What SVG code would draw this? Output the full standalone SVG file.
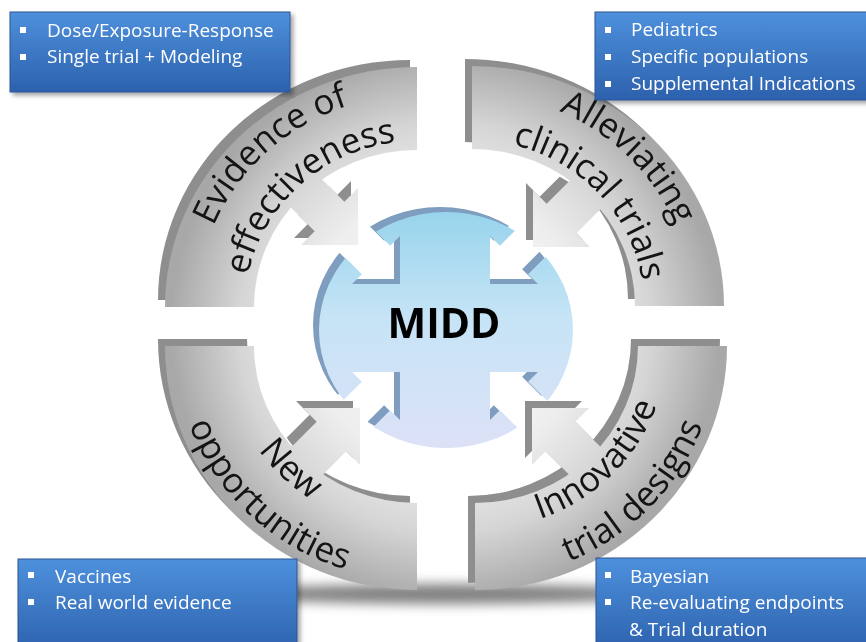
<svg xmlns="http://www.w3.org/2000/svg" xmlns:xlink="http://www.w3.org/1999/xlink" width="866" height="642" viewBox="0 0 866 642">
<style>
.bt{font-family:"Open Sans","Liberation Sans",sans-serif;font-size:19px;fill:#ffffff}
.at{font-family:"Open Sans","Liberation Sans",sans-serif;font-size:35px;fill:#141414}
.mt{font-family:"Open Sans","Liberation Sans",sans-serif;font-size:41px;font-weight:bold;fill:#000000}
.box{fill:url(#boxG);stroke:#2a5490;stroke-width:1;filter:url(#ds)}
.bul{fill:#ffffff}
.side{fill:#8e8e8e}
.face{fill:url(#arcG)}
</style>
<defs>
  <linearGradient id="boxG" x1="0" y1="0" x2="0" y2="1">
    <stop offset="0" stop-color="#4e90dc"/>
    <stop offset="1" stop-color="#2c61ad"/>
  </linearGradient>
  <radialGradient id="arcG" gradientUnits="userSpaceOnUse" cx="445" cy="328" r="275">
    <stop offset="0" stop-color="#ffffff"/>
    <stop offset="0.5" stop-color="#eeeeee"/>
    <stop offset="0.75" stop-color="#d5d5d5"/>
    <stop offset="1" stop-color="#a8a8a8"/>
  </radialGradient>
  <linearGradient id="discG" gradientUnits="userSpaceOnUse" x1="0" y1="212" x2="0" y2="448">
    <stop offset="0" stop-color="#98d4ec"/>
    <stop offset="0.45" stop-color="#c6e4f6"/>
    <stop offset="1" stop-color="#dde1f7"/>
  </linearGradient>
  <filter id="ds" x="-5%" y="-10%" width="115%" height="135%">
    <feDropShadow dx="3" dy="3" stdDeviation="2" flood-color="#000000" flood-opacity="0.35"/>
  </filter>
  <filter id="blur" x="-20%" y="-200%" width="140%" height="500%">
    <feGaussianBlur stdDeviation="6"/>
  </filter>

  <path id="arcTL" d="M417,67 A252,240 0 0 0 165,307 L254,307 A163,157 0 0 1 417,150 Z"/>
  <path id="arcTR" d="M472,66 A252,240 0 0 1 724,306 L635,306 A163,157 0 0 0 472,149 Z"/>
  <path id="arcBL" d="M165,346 L254,346 A163,157 0 0 0 417,503 L417,590 A252,244 0 0 1 165,346 Z"/>
  <path id="arcBR" d="M475,503 L475,590 A252,244 0 0 0 727,346 L638,346 A163,157 0 0 1 475,503 Z"/>

  <path id="arrTL" d="M358,245 L358,188 L344.35,201.65 L314.35,171.65 L284.65,201.35 L314.65,231.35 L301,245 Z"/>
  <path id="arrTR" d="M533,247 L533,190 L546.65,203.65 L576.65,173.65 L606.35,203.35 L576.35,233.35 L590,247 Z"/>
  <path id="arrBL" d="M360,408 L303,408 L316.65,421.65 L286.65,451.65 L316.35,481.35 L346.35,451.35 L360,465 Z"/>
  <path id="arrBR" d="M532,408 L589,408 L575.35,421.65 L605.35,451.65 L575.65,481.35 L545.65,451.35 L532,465 Z"/>

  <mask id="outsideArcs" maskUnits="userSpaceOnUse" x="-20" y="-20" width="906" height="682">
    <rect x="-20" y="-20" width="906" height="682" fill="#ffffff"/>
    <use xlink:href="#arcTL" fill="#000000" transform="translate(7,7)"/>
    <use xlink:href="#arcTR" fill="#000000" transform="translate(7,7)"/>
    <use xlink:href="#arcBL" fill="#000000" transform="translate(7,7)"/>
    <use xlink:href="#arcBR" fill="#000000" transform="translate(7,7)"/>
  </mask>
  <mask id="outsideArrows" maskUnits="userSpaceOnUse" x="-20" y="-20" width="906" height="682">
    <rect x="-20" y="-20" width="906" height="682" fill="#ffffff"/>
    <use xlink:href="#arrTL" fill="#000000" transform="translate(7,7)"/>
    <use xlink:href="#arrTR" fill="#000000" transform="translate(7,7)"/>
    <use xlink:href="#arrBL" fill="#000000" transform="translate(7,7)"/>
    <use xlink:href="#arrBR" fill="#000000" transform="translate(7,7)"/>
  </mask>

  <ellipse id="disc" cx="446" cy="330" rx="127" ry="118"/>
  <mask id="notch" maskUnits="userSpaceOnUse" x="-20" y="-20" width="906" height="682">
    <rect x="-20" y="-20" width="906" height="682" fill="#ffffff"/>
    <path fill="#000000" d="M400,284 L400,236 L390.14,245.86 L320.14,175.86 L291.86,204.14 L361.86,274.14 L352,284 Z
      M490,284 L490,236 L499.86,245.86 L569.86,175.86 L598.14,204.14 L528.14,274.14 L538,284 Z
      M400,372 L352,372 L361.86,381.86 L291.86,451.86 L320.14,480.14 L390.14,410.14 L400,420 Z
      M490,372 L538,372 L528.14,381.86 L598.14,451.86 L569.86,480.14 L499.86,410.14 L490,420 Z"/>
  </mask>

  <path id="tpTLo" d="M197,307 A220,212 0 0 1 417,95"/>
  <path id="tpTLi" d="M245,307 A172,166 0 0 1 417,141"/>
  <path id="tpTRo" d="M472,94 A220,212 0 0 1 692,306"/>
  <path id="tpTRi" d="M472,140 A172,166 0 0 1 644,306"/>
  <path id="tpBLi" d="M225,346 A192,184 0 0 0 417,530"/>
  <path id="tpBLo" d="M175,346 A242,234 0 0 0 417,580"/>
  <path id="tpBRi" d="M475,530 A192,184 0 0 0 667,346"/>
  <path id="tpBRo" d="M475,580 A242,234 0 0 0 717,346"/>
</defs>

<rect width="866" height="642" fill="#ffffff"/>

<ellipse cx="445" cy="594" rx="215" ry="10" fill="#555555" opacity="0.75" filter="url(#blur)"/>

<g id="connectors">
  <g mask="url(#outsideArcs)">
    <use xlink:href="#arrTL" class="side" transform="translate(-7,-7)"/>
    <use xlink:href="#arrTR" class="side" transform="translate(-7,-7)"/>
    <use xlink:href="#arrBL" class="side" transform="translate(-7,-7)"/>
    <use xlink:href="#arrBR" class="side" transform="translate(-7,-7)"/>
  </g>
  <use xlink:href="#arrTL" class="face"/>
  <use xlink:href="#arrTR" class="face"/>
  <use xlink:href="#arrBL" class="face"/>
  <use xlink:href="#arrBR" class="face"/>
</g>

<g id="node-evidence">
  <use xlink:href="#arcTL" class="side" transform="translate(-7,-7)" mask="url(#outsideArrows)"/>
  <use xlink:href="#arcTL" class="face"/>
  <text class="at"><textPath xlink:href="#tpTLo" startOffset="52%" text-anchor="middle">Evidence of</textPath></text>
  <text class="at"><textPath xlink:href="#tpTLi" startOffset="52%" text-anchor="middle">effectiveness</textPath></text>
</g>

<g id="node-alleviating">
  <use xlink:href="#arcTR" class="side" transform="translate(-7,-7)" mask="url(#outsideArrows)"/>
  <use xlink:href="#arcTR" class="face"/>
  <text class="at"><textPath xlink:href="#tpTRo" startOffset="51%" text-anchor="middle">Alleviating</textPath></text>
  <text class="at"><textPath xlink:href="#tpTRi" startOffset="53%" text-anchor="middle">clinical trials</textPath></text>
</g>

<g id="node-new">
  <use xlink:href="#arcBL" class="side" transform="translate(-7,-7)" mask="url(#outsideArrows)"/>
  <use xlink:href="#arcBL" class="face"/>
  <text class="at"><textPath xlink:href="#tpBLi" startOffset="50%" text-anchor="middle">New</textPath></text>
  <text class="at"><textPath xlink:href="#tpBLo" startOffset="51%" text-anchor="middle">opportunities</textPath></text>
</g>

<g id="node-innovative">
  <use xlink:href="#arcBR" class="side" transform="translate(-7,-7)" mask="url(#outsideArrows)"/>
  <use xlink:href="#arcBR" class="face"/>
  <text class="at"><textPath xlink:href="#tpBRi" startOffset="51%" text-anchor="middle">Innovative</textPath></text>
  <text class="at"><textPath xlink:href="#tpBRo" startOffset="52%" text-anchor="middle">trial designs</textPath></text>
</g>

<g id="node-midd">
  <use xlink:href="#disc" fill="#7f9dbf" transform="translate(-6,-5)" mask="url(#notch)"/>
  <use xlink:href="#disc" fill="url(#discG)" mask="url(#notch)"/>
  <text class="mt" x="444" y="338" text-anchor="middle">MIDD</text>
</g>

<g id="box-effectiveness">
  <rect class="box" x="10" y="12" width="280" height="80"/>
  <rect class="bul" x="20" y="27" width="6" height="6"/>
  <rect class="bul" x="20" y="54" width="6" height="6"/>
  <text class="bt" x="47" y="37">Dose/Exposure-Response</text>
  <text class="bt" x="47" y="63">Single trial  + Modeling</text>
</g>

<g id="box-alleviating">
  <rect class="box" x="595" y="12" width="285" height="88"/>
  <rect class="bul" x="605" y="27" width="6" height="6"/>
  <rect class="bul" x="605" y="54" width="6" height="6"/>
  <rect class="bul" x="605" y="81" width="6" height="6"/>
  <text class="bt" x="631" y="36">Pediatrics</text>
  <text class="bt" x="631" y="63">Specific populations</text>
  <text class="bt" x="631" y="90">Supplemental Indications</text>
</g>

<g id="box-new">
  <rect class="box" x="18" y="559" width="279" height="95"/>
  <rect class="bul" x="28" y="572" width="6" height="6"/>
  <rect class="bul" x="28" y="599" width="6" height="6"/>
  <text class="bt" x="55" y="583">Vaccines</text>
  <text class="bt" x="55" y="609">Real world evidence</text>
</g>

<g id="box-innovative">
  <rect class="box" x="596" y="558" width="285" height="95"/>
  <rect class="bul" x="605" y="572" width="6" height="6"/>
  <rect class="bul" x="605" y="599" width="6" height="6"/>
  <text class="bt" x="630" y="583">Bayesian</text>
  <text class="bt" x="630" y="609">Re-evaluating endpoints</text>
  <text class="bt" x="629" y="636">&amp; Trial duration</text>
</g>
</svg>
